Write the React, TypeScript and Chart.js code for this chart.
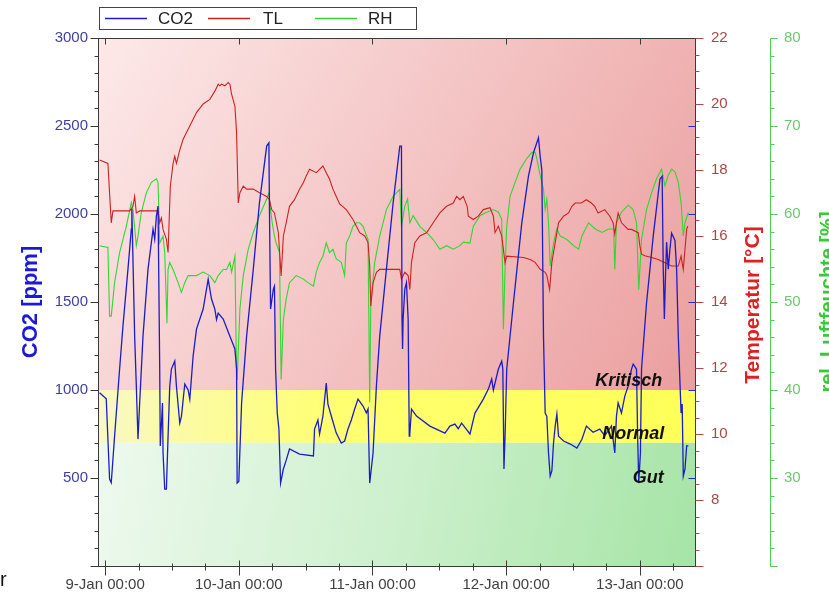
import React, { useEffect, useRef } from 'react';
import { Chart, registerables } from 'chart.js';

Chart.register(...registerables);

const FONT = "'Liberation Sans', Arial, sans-serif";

// hours since 9-Jan 00:00 -> CO2 [ppm]
const co2Series: [number, number][] = [
  [-1.0, 984], [0.2, 950], [0.8, 494], [1.1, 473], [1.7, 738], [2.6, 1119], [3.2, 1363], [4.1, 1687], [4.7, 1914], [4.8, 2028],
  [5.3, 1306], [5.6, 1022], [5.9, 721], [6.2, 926], [6.8, 1306], [7.7, 1687], [8.6, 1914], [8.9, 1857], [9.2, 1988], [9.5, 2045],
  [9.8, 1119], [9.9, 682], [10.3, 926], [10.4, 642], [10.7, 437], [11.0, 437], [11.3, 738], [11.6, 1022], [11.9, 1119], [12.5, 1164],
  [12.8, 1022], [13.4, 812], [13.7, 850], [14.3, 1034], [14.9, 1000], [15.2, 948], [15.8, 1193], [16.4, 1346], [17.6, 1460], [18.5, 1630],
  [19.1, 1517], [19.7, 1460], [20.0, 1400], [20.3, 1437], [21.2, 1403], [22.4, 1306], [23.3, 1233], [23.6, 1119], [23.7, 471], [24.0, 480],
  [24.5, 926], [25.4, 1306], [26.6, 1687], [27.7, 2062], [29.0, 2386], [29.4, 2404], [29.5, 2028], [29.7, 1460], [30.2, 1573], [30.4, 1590],
  [30.6, 1119], [30.9, 869], [31.2, 778], [31.5, 471], [32.0, 551], [32.5, 600], [33.1, 665], [34.9, 636], [37.4, 625], [37.6, 778],
  [38.2, 830], [38.5, 750], [39.1, 852], [39.7, 1039], [40.0, 920], [40.6, 852], [41.5, 755], [42.4, 699], [43.0, 710], [43.6, 778],
  [44.2, 830], [44.8, 892], [45.4, 948], [46.3, 909], [46.9, 870], [47.2, 892], [47.5, 471], [48.1, 642], [48.7, 1022], [49.3, 1306],
  [50.5, 1687], [51.7, 2062], [52.9, 2386], [53.2, 2386], [53.3, 1403], [53.4, 1233], [53.5, 1403], [53.8, 1573], [54.1, 1610], [54.4, 1403],
  [54.6, 738], [54.7, 750], [55.0, 892], [55.9, 852], [58.3, 795], [61.0, 755], [61.9, 795], [62.8, 806], [63.4, 780], [64.0, 812],
  [65.5, 750], [66.4, 869], [67.9, 948], [68.8, 1005], [69.4, 1062], [69.7, 1000], [70.6, 1119], [71.2, 1164], [71.4, 1119], [71.6, 551],
  [71.8, 738], [72.1, 1119], [73.3, 1494], [74.8, 1948], [76.0, 2215], [76.9, 2348], [77.8, 2433], [78.1, 2329], [78.4, 2250], [78.7, 1306],
  [79.0, 869], [79.3, 850], [79.6, 642], [79.9, 511], [80.2, 540], [80.5, 699], [80.8, 795], [81.1, 863], [81.4, 738], [82.3, 710],
  [83.5, 693], [84.7, 670], [85.6, 720], [86.4, 795], [87.6, 760], [88.8, 778], [89.7, 740], [90.9, 795], [91.5, 642], [91.8, 852],
  [92.1, 926], [92.7, 869], [93.3, 965], [93.9, 1022], [94.5, 1119], [94.8, 1147], [95.4, 1119], [95.6, 738], [95.8, 471], [96.1, 642],
  [96.3, 1119], [97.2, 1494], [98.4, 1874], [99.6, 2198], [100.0, 2215], [100.2, 1687], [100.4, 1403], [100.6, 1647], [100.8, 1840], [101.1, 1687],
  [101.4, 1801], [101.7, 1891], [102.3, 1850], [102.6, 1687], [102.9, 1306], [103.4, 869], [103.6, 920], [103.8, 511], [104.1, 550], [104.4, 682],
  [104.7, 682],
];

// hours -> air temperature TL [°C]
const tlSeries: [number, number][] = [
  [-1.0, 18.3], [0.5, 18.2], [0.8, 17.3], [1.1, 16.4], [1.4, 16.76], [4.4, 16.76], [5.0, 16.9], [5.3, 17.2], [5.6, 16.7], [6.2, 16.76],
  [9.5, 16.76], [9.8, 16.4], [10.1, 16.55], [10.4, 16.2], [11.0, 15.9], [11.3, 15.5], [11.7, 17.5], [12.2, 18.2], [12.5, 18.42], [12.8, 18.2],
  [13.4, 18.6], [14.0, 18.93], [15.2, 19.33], [16.4, 19.74], [17.6, 20.0], [18.8, 20.14], [19.7, 20.39], [20.3, 20.6], [20.6, 20.55], [20.9, 20.6],
  [21.5, 20.55], [22.1, 20.65], [22.4, 20.6], [22.7, 20.3], [23.3, 19.94], [23.6, 19.13], [23.9, 17.0], [24.2, 17.31], [24.8, 17.51], [25.4, 17.42],
  [26.6, 17.42], [27.7, 17.31], [29.0, 17.2], [29.5, 17.1], [29.9, 16.8], [30.4, 16.7], [31.1, 16.1], [31.6, 14.79], [32.0, 16.0], [32.5, 16.4],
  [33.1, 16.9], [34.0, 17.1], [34.9, 17.42], [35.6, 17.62], [36.1, 17.82], [36.7, 18.02], [37.9, 17.92], [38.5, 18.02], [39.1, 18.12], [39.7, 17.92],
  [40.3, 17.72], [40.9, 17.42], [41.5, 17.2], [42.1, 16.97], [43.3, 16.8], [44.5, 16.5], [45.7, 16.1], [46.6, 16.0], [47.2, 15.8], [47.5, 15.09],
  [47.7, 13.88], [48.1, 14.58], [48.7, 14.9], [49.3, 14.99], [52.9, 14.99], [53.2, 14.69], [53.8, 14.9], [54.4, 14.8], [54.7, 14.38], [55.0, 15.2],
  [55.6, 15.8], [56.5, 16.0], [57.7, 16.1], [58.9, 16.4], [60.1, 16.7], [61.3, 16.9], [62.5, 17.0], [63.1, 17.2], [63.7, 17.1], [64.3, 17.2],
  [65.0, 16.9], [65.2, 16.6], [66.1, 16.5], [67.0, 16.6], [67.9, 16.8], [69.1, 16.86], [69.7, 16.6], [70.0, 16.1], [70.6, 16.3], [71.2, 16.0],
  [71.8, 15.19], [72.1, 15.39], [75.1, 15.35], [76.3, 15.29], [77.2, 15.2], [78.1, 14.99], [79.0, 14.9], [79.3, 14.8], [79.8, 14.38], [80.2, 15.2],
  [80.8, 15.8], [81.4, 16.4], [82.3, 16.6], [83.2, 16.7], [83.8, 16.9], [84.4, 17.0], [85.5, 17.0], [86.4, 17.1], [87.3, 17.0], [87.9, 16.9],
  [88.5, 16.7], [89.7, 16.8], [90.6, 16.6], [91.2, 16.4], [91.5, 16.06], [91.8, 16.4], [92.1, 16.7], [92.7, 16.4], [93.3, 16.3], [93.9, 16.2],
  [94.5, 16.2], [95.7, 16.1], [96.0, 15.7], [96.3, 15.45], [96.9, 15.4], [98.1, 15.35], [99.3, 15.29], [100.5, 15.19], [101.7, 15.09], [102.9, 15.09],
  [103.4, 15.39], [103.8, 14.99], [104.1, 15.6], [104.4, 16.2], [104.6, 16.3],
];

// hours -> relative humidity RH [%]
const rhSeries: [number, number][] = [
  [-1.0, 56.4], [0.5, 56.2], [0.8, 48.4], [1.1, 48.4], [1.7, 52.2], [2.6, 55.6], [3.8, 58.6], [4.7, 61.3], [5.0, 60.5], [5.6, 56.4],
  [5.9, 57.5], [6.5, 60.2], [7.4, 62.4], [8.3, 63.6], [9.2, 64.0], [9.5, 63.6], [9.8, 56.7], [10.4, 57.5], [10.7, 55.6], [11.1, 47.6],
  [11.3, 53.7], [11.6, 54.5], [12.2, 53.7], [13.1, 52.2], [13.7, 51.1], [14.3, 52.2], [14.9, 53.0], [16.4, 53.0], [17.6, 53.4], [18.8, 53.0],
  [19.7, 52.2], [20.3, 53.0], [21.2, 53.7], [21.8, 53.7], [22.4, 54.5], [22.7, 53.4], [23.3, 55.2], [23.6, 41.2], [23.7, 41.2], [24.2, 49.2],
  [24.8, 53.0], [25.7, 56.0], [26.6, 57.9], [27.7, 59.8], [29.0, 61.7], [29.4, 62.4], [29.7, 60.5], [30.0, 59.0], [30.4, 57.5], [30.7, 56.7],
  [31.1, 56.0], [31.3, 55.6], [31.6, 41.2], [32.0, 48.0], [32.5, 50.3], [33.1, 52.2], [34.3, 53.0], [35.6, 52.6], [36.4, 52.2], [37.4, 51.8],
  [37.9, 53.4], [38.5, 54.5], [39.1, 55.2], [39.7, 56.7], [40.3, 55.6], [40.9, 56.0], [41.5, 54.9], [42.4, 54.5], [43.0, 53.0], [43.3, 56.7],
  [43.9, 57.5], [44.5, 58.6], [45.1, 59.0], [45.7, 59.0], [46.3, 58.6], [47.2, 57.1], [47.5, 38.6], [47.7, 49.9], [48.4, 54.5], [49.3, 57.5],
  [50.5, 60.5], [51.7, 62.0], [52.9, 62.8], [53.2, 58.6], [53.8, 60.9], [54.3, 61.7], [54.7, 59.0], [55.3, 59.8], [56.5, 58.6], [57.7, 57.9],
  [58.9, 57.1], [60.1, 56.0], [61.3, 56.4], [62.5, 56.0], [63.7, 56.4], [64.3, 56.8], [65.5, 56.7], [66.1, 58.6], [67.3, 59.8], [68.5, 60.2],
  [69.7, 60.5], [70.6, 60.2], [71.2, 59.4], [71.5, 46.9], [71.8, 53.7], [72.1, 58.6], [72.7, 62.0], [73.6, 63.6], [74.5, 65.1], [75.7, 66.3],
  [76.6, 67.0], [77.2, 67.0], [77.5, 66.3], [78.1, 64.4], [78.7, 62.8], [79.0, 60.5], [79.3, 61.7], [79.6, 59.0], [79.9, 54.1], [80.5, 56.7],
  [81.1, 58.3], [81.7, 57.5], [82.9, 57.1], [84.1, 56.4], [85.0, 56.0], [85.6, 57.5], [86.8, 59.0], [88.0, 58.3], [89.2, 57.9], [90.4, 58.3],
  [91.3, 58.3], [91.5, 53.7], [91.8, 59.0], [92.7, 60.2], [93.9, 61.0], [94.8, 60.5], [95.4, 59.0], [95.8, 51.4], [96.3, 57.1], [97.2, 60.5],
  [98.1, 62.4], [99.0, 64.0], [99.9, 65.1], [100.5, 63.2], [101.1, 64.4], [101.7, 65.1], [102.3, 64.8], [102.9, 63.6], [103.4, 61.3], [103.8, 57.5],
  [104.1, 59.0], [104.7, 60.2],
];

const seriesNames = ['CO2', 'TL', 'RH'];
const dayTicks = [0, 24, 48, 72, 96];
const dayLabels = ['9-Jan 00:00', '10-Jan 00:00', '11-Jan 00:00', '12-Jan 00:00', '13-Jan 00:00'];
const co2TickValues = [500, 1000, 1500, 2000, 2500, 3000];
const tlTickValues = [8, 10, 12, 14, 16, 18, 20, 22];
const rhTickValues = [30, 40, 50, 60, 70, 80];
const zoneNames = ['Kritisch', 'Normal', 'Gut'];
const zoneLimits = [1000, 700]; // ppm boundaries

const COL_CO2 = '#1c1cc8';
const COL_TL = '#cc2222';
const COL_RH = '#33d633';

function seg(ctx: CanvasRenderingContext2D, x1: number, y1: number, x2: number, y2: number) {
  ctx.beginPath();
  ctx.moveTo(x1, y1);
  ctx.lineTo(x2, y2);
  ctx.stroke();
}
const crisp = (v: number) => Math.round(v) + 0.5;

const decor = {
  id: 'decor',
  beforeDatasetsDraw(chart: any) {
    const { ctx, chartArea: a, scales } = chart;
    const y = scales.y;
    const yTop = y.getPixelForValue(3000);
    const y1 = y.getPixelForValue(zoneLimits[0]);
    const y2 = y.getPixelForValue(zoneLimits[1]);
    const yB = y.getPixelForValue(0);
    ctx.save();
    let g = ctx.createLinearGradient(a.left, yTop, a.right, y1);
    g.addColorStop(0, '#fde9e9');
    g.addColorStop(0.55, '#f3c0c0');
    g.addColorStop(1, '#eb9e9e');
    ctx.fillStyle = g;
    ctx.fillRect(a.left, yTop, a.right - a.left, y1 - yTop);
    g = ctx.createLinearGradient(a.left, y1, a.right, y2);
    g.addColorStop(0, '#f8f8c4');
    g.addColorStop(0.4, '#ffff70');
    g.addColorStop(1, '#ffff58');
    ctx.fillStyle = g;
    ctx.fillRect(a.left, y1, a.right - a.left, y2 - y1);
    g = ctx.createLinearGradient(a.left, y2, a.right, yB);
    g.addColorStop(0, '#eef9ee');
    g.addColorStop(0.5, '#cdf0cd');
    g.addColorStop(1, '#a6e4a6');
    ctx.fillStyle = g;
    ctx.fillRect(a.left, y2, a.right - a.left, yB - y2);
    ctx.restore();
  },
  afterDatasetsDraw(chart: any) {
    const { ctx, chartArea: a, scales } = chart;
    const { x, y, yT, yH } = scales;
    ctx.save();
    // zone labels
    ctx.font = `italic bold 18px ${FONT}`;
    ctx.fillStyle = '#111';
    ctx.textAlign = 'center';
    ctx.textBaseline = 'middle';
    const zonePos: [number, number][] = [[94.0, 1050], [94.8, 750], [97.5, 500]];
    zoneNames.forEach((t, i) => ctx.fillText(t, x.getPixelForValue(zonePos[i][0]), y.getPixelForValue(zonePos[i][1])));

    const L = crisp(a.left - 1), R = crisp(a.right), T = crisp(a.top), B = crisp(a.bottom);
    ctx.lineWidth = 1;
    ctx.strokeStyle = '#3a3a3a';
    ctx.strokeRect(L, T, R - L, B - T);
    // x ticks
    for (let h = 0; h <= x.max; h += 6) {
      const px = crisp(x.getPixelForValue(h));
      if (h % 24 === 0) {
        seg(ctx, px, B - 6, px, B + 9);
        seg(ctx, px, T, px, T + 6);
      } else {
        seg(ctx, px, B - 3, px, B + 4);
      }
    }
    // CO2 ticks left
    for (let v = 0; v <= 3000; v += 100) {
      const py = crisp(y.getPixelForValue(v));
      seg(ctx, v % 500 === 0 ? L - 8 : L - 4, py, L, py);
    }
    ctx.strokeStyle = '#2828c0';
    for (let v = 500; v < 3000; v += 500) {
      const py = crisp(y.getPixelForValue(v));
      seg(ctx, R - 7, py, R, py);
    }
    // TL ticks
    ctx.strokeStyle = '#b04a4a';
    for (let v = 6; v <= 22; v += 0.5) {
      const py = crisp(yT.getPixelForValue(v));
      seg(ctx, R, py, R + (v % 2 === 0 ? 8 : 4), py);
    }
    // RH axis
    ctx.strokeStyle = '#55cc55';
    const HX = crisp(yH.left);
    seg(ctx, HX, T, HX, B);
    for (let v = 20; v <= 80; v += 2) {
      const py = crisp(yH.getPixelForValue(v));
      seg(ctx, HX, py, HX + (v % 10 === 0 ? 7 : 4), py);
    }
    ctx.restore();
  },
  afterDraw(chart: any) {
    const { ctx, scales } = chart;
    ctx.save();
    // legend
    ctx.fillStyle = '#ffffff';
    ctx.fillRect(99.5, 7.5, 317, 22);
    ctx.strokeStyle = '#444';
    ctx.lineWidth = 1;
    ctx.strokeRect(99.5, 7.5, 317, 22);
    const cols = [COL_CO2, COL_TL, COL_RH];
    const lx = [105, 208, 315];
    const tx = [158, 263, 368];
    ctx.font = `17px ${FONT}`;
    ctx.textAlign = 'left';
    ctx.textBaseline = 'middle';
    seriesNames.forEach((n, i) => {
      ctx.strokeStyle = cols[i];
      ctx.lineWidth = 1.3;
      seg(ctx, lx[i], 18.5, lx[i] + 42, 18.5);
      ctx.fillStyle = '#222';
      ctx.fillText(n, tx[i], 19);
    });
    // axis titles (read bottom to top), baseline given as x
    const midY = (scales.y.top + scales.y.bottom) / 2;
    const title = (t: string, bx: number, cy: number, color: string, size: number) => {
      ctx.save();
      ctx.translate(bx, cy);
      ctx.rotate(-Math.PI / 2);
      ctx.font = `bold ${size}px ${FONT}`;
      ctx.fillStyle = color;
      ctx.textAlign = 'center';
      ctx.textBaseline = 'alphabetic';
      ctx.fillText(t, 0, 0);
      ctx.restore();
    };
    title('CO2 [ppm]', 37, midY, '#1a1ad6', 22);
    title('Temperatur [°C]', 759, midY + 3, '#dd2020', 21);
    title('rel. Luftfeuchte [%]', 834, midY, '#33cc33', 20);
    // stray glyph at bottom-left
    ctx.font = `20px ${FONT}`;
    ctx.fillStyle = '#111';
    ctx.textAlign = 'left';
    ctx.fillText('r', 0, 580);
    ctx.restore();
  },
};

export default function App() {
  const ref = useRef<HTMLCanvasElement>(null);
  useEffect(() => {
    if (!ref.current) return;
    const toXY = (s: [number, number][]) => s.map(([x, y]) => ({ x, y }));
    const chart = new Chart(ref.current, {
      type: 'line',
      data: {
        datasets: [
          { label: seriesNames[0], data: toXY(co2Series), borderColor: COL_CO2, borderWidth: 1.3, pointRadius: 0, tension: 0, yAxisID: 'y' },
          { label: seriesNames[1], data: toXY(tlSeries), borderColor: COL_TL, borderWidth: 1.1, pointRadius: 0, tension: 0, yAxisID: 'yT' },
          { label: seriesNames[2], data: toXY(rhSeries), borderColor: COL_RH, borderWidth: 1.1, pointRadius: 0, tension: 0, yAxisID: 'yH' },
        ],
      },
      options: {
        animation: false,
        responsive: false,
        maintainAspectRatio: false,
        layout: { padding: { top: 38, left: 0, right: 0, bottom: 0 } },
        plugins: { legend: { display: false }, tooltip: { enabled: false } },
        scales: {
          x: {
            type: 'linear',
            position: 'bottom',
            min: -1.1,
            max: 105.9,
            grid: { display: false, drawTicks: false },
            border: { display: false },
            afterBuildTicks: (s: any) => { s.ticks = dayTicks.map((v) => ({ value: v })); },
            afterFit: (s: any) => { s.height = 28; },
            ticks: {
              autoSkip: false,
              maxRotation: 0,
              padding: 10,
              color: '#404040',
              font: { family: FONT, size: 15 },
              callback: (v: any) => dayLabels[dayTicks.indexOf(Number(v))] ?? '',
            },
          },
          y: {
            type: 'linear',
            position: 'left',
            min: 0,
            max: 3000,
            weight: 0,
            grid: { display: false, drawTicks: false },
            border: { display: false },
            afterBuildTicks: (s: any) => { s.ticks = co2TickValues.map((v) => ({ value: v })); },
            afterFit: (s: any) => { s.width = 99; },
            ticks: { autoSkip: false, padding: 11, color: '#40409c', font: { family: FONT, size: 15 }, callback: (v: any) => String(v) },
          },
          yT: {
            type: 'linear',
            position: 'right',
            min: 6,
            max: 22,
            weight: 0,
            grid: { display: false, drawTicks: false },
            border: { display: false },
            afterBuildTicks: (s: any) => { s.ticks = tlTickValues.map((v) => ({ value: v })); },
            afterFit: (s: any) => { s.width = 75; },
            ticks: { autoSkip: false, padding: 16, color: '#a84848', font: { family: FONT, size: 15 }, callback: (v: any) => String(v) },
          },
          yH: {
            type: 'linear',
            position: 'right',
            min: 20,
            max: 80,
            weight: 1,
            grid: { display: false, drawTicks: false },
            border: { display: false },
            afterBuildTicks: (s: any) => { s.ticks = rhTickValues.map((v) => ({ value: v })); },
            afterFit: (s: any) => { s.width = 59; },
            ticks: { autoSkip: false, padding: 14, color: '#6cc86c', font: { family: FONT, size: 15 }, callback: (v: any) => String(v) },
          },
        },
      } as any,
      plugins: [decor],
    });
    return () => chart.destroy();
  }, []);
  return (
    <div style={{ position: 'absolute', left: 0, top: 0, width: 829, height: 594, background: '#ffffff' }}>
      <canvas ref={ref} width={829} height={594} style={{ display: 'block', width: 829, height: 594 }} />
    </div>
  );
}
